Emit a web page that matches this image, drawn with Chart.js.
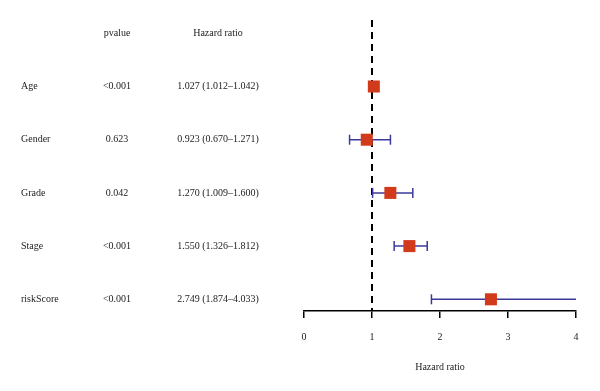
<!DOCTYPE html>
<html>
<head>
<meta charset="utf-8">
<script src="https://cdn.jsdelivr.net/npm/chart.js@4.4.0/dist/chart.umd.min.js"></script>
<style>
  html, body { margin: 0; padding: 0; background: #fff; }
  #wrap { width: 600px; height: 391px; }
</style>
</head>
<body>
<div id="wrap"><canvas id="myChart"></canvas></div>
<script>
'use strict';

let variables = ['Age', 'Gender', 'Grade', 'Stage', 'riskScore'];
let pvalues = ['<0.001', '0.623', '0.042', '<0.001', '<0.001'];
let hr = [1.027, 0.923, 1.270, 1.550, 2.749];
let hrLow = [1.012, 0.670, 1.009, 1.326, 1.874];
let hrHigh = [1.042, 1.271, 1.600, 1.812, 4.033];
let xTicks = [0, 1, 2, 3, 4];

let serif = '"Liberation Serif", "DejaVu Serif", serif';
let red = '#d23a1c';
let blue = '#3b3a9c';
let yMin = -0.25;
let yMax = 5.22;

function fmt(v) {
  return v.toFixed(3);
}

let datasets = [];

// reference line at HR = 1 (drawn first, under the marks)
datasets.push({
  type: 'line',
  order: 3,
  data: [{ x: 1, y: yMin }, { x: 1, y: yMax }],
  borderColor: '#000',
  borderWidth: 2,
  borderDash: [7, 5],
  pointRadius: 0
});

// confidence intervals
for (let i = 0; i < variables.length; i++) {
  datasets.push({
    type: 'line',
    order: 2,
    data: [{ x: hrLow[i], y: i + 1 }, { x: hrHigh[i], y: i + 1 }],
    borderColor: blue,
    borderWidth: 1.5,
    pointStyle: 'line',
    rotation: 90,
    pointRadius: 5,
    pointBorderColor: blue,
    pointBorderWidth: 1.5
  });
}

// hazard ratio squares
datasets.push({
  type: 'scatter',
  order: 1,
  data: hr.map((v, i) => ({ x: v, y: i + 1 })),
  pointStyle: 'rect',
  pointRadius: 8.5,
  backgroundColor: red,
  borderColor: red,
  borderWidth: 0
});

let tablePlugin = {
  id: 'tablePlugin',
  afterDraw(chart) {
    let ctx = chart.ctx;
    let y = chart.scales.y;
    ctx.save();
    ctx.fillStyle = '#222';
    ctx.font = '10px ' + serif;
    ctx.textBaseline = 'middle';
    let head = y.getPixelForValue(0);
    ctx.textAlign = 'center';
    ctx.fillText('pvalue', 117, head);
    ctx.fillText('Hazard ratio', 218, head);
    for (let i = 0; i < variables.length; i++) {
      let py = y.getPixelForValue(i + 1);
      ctx.textAlign = 'left';
      ctx.fillText(variables[i], 21, py);
      ctx.textAlign = 'center';
      ctx.fillText(pvalues[i], 117, py);
      ctx.fillText(fmt(hr[i]) + ' (' + fmt(hrLow[i]) + '\u2013' + fmt(hrHigh[i]) + ')', 218, py);
    }
    ctx.restore();
  }
};

let ctx = document.getElementById('myChart').getContext('2d');
let myChart = new Chart(ctx, {
  data: { datasets: datasets },
  options: {
    responsive: true,
    maintainAspectRatio: false,
    animation: false,
    layout: { padding: { left: 304, right: 24, top: 20, bottom: 13 } },
    plugins: {
      legend: { display: false },
      tooltip: { enabled: false }
    },
    scales: {
      x: {
        type: 'linear',
        min: 0,
        max: 4,
        afterBuildTicks(axis) {
          axis.ticks = xTicks.map(v => ({ value: v }));
        },
        grid: { drawOnChartArea: false, drawTicks: true, tickLength: 7, color: '#000', lineWidth: 1.5 },
        border: { display: true, color: '#000', width: 1.5 },
        ticks: { color: '#222', font: { family: serif, size: 10 }, padding: 13 },
        title: {
          display: true,
          text: 'Hazard ratio',
          color: '#222',
          font: { family: serif, size: 10 },
          padding: { top: 5, bottom: 5 }
        }
      },
      y: {
        type: 'linear',
        display: false,
        reverse: true,
        min: yMin,
        max: yMax
      }
    }
  },
  plugins: [tablePlugin]
});
</script>
</body>
</html>
